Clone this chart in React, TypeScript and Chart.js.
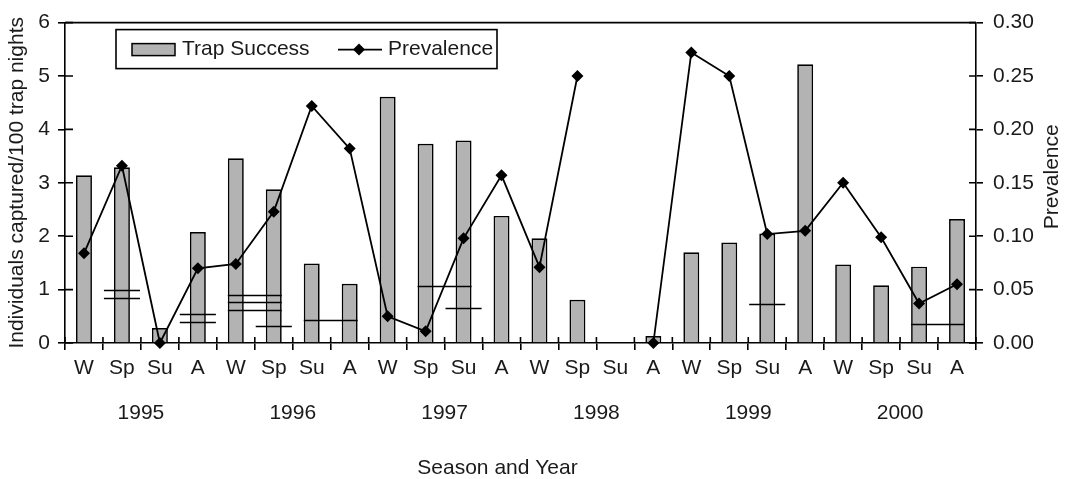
import React, { useEffect, useRef } from 'react';
import { Chart, registerables } from 'chart.js';

Chart.register(...registerables);

// ---------- data ----------
const seasons = ['W', 'Sp', 'Su', 'A', 'W', 'Sp', 'Su', 'A', 'W', 'Sp', 'Su', 'A', 'W', 'Sp', 'Su', 'A', 'W', 'Sp', 'Su', 'A', 'W', 'Sp', 'Su', 'A'];
const years = ['1995', '1996', '1997', '1998', '1999', '2000'];
const trapSuccess: (number | null)[] = [3.14, 3.29, 0.28, 2.08, 3.46, 2.88, 1.49, 1.11, 4.61, 3.73, 3.79, 2.38, 1.96, 0.81, null, 0.13, 1.7, 1.88, 2.05, 5.22, 1.47, 1.08, 1.43, 2.32];
const prevalence: (number | null)[] = [0.084, 0.166, 0.0, 0.07, 0.074, 0.123, 0.222, 0.182, 0.025, 0.011, 0.098, 0.157, 0.071, 0.25, null, 0.0, 0.272, 0.25, 0.102, 0.105, 0.15, 0.099, 0.037, 0.055];
// short horizontal marks: first category index, last category index, value (left axis units)
const markFrom = [1, 1, 3, 3, 4, 4, 4, 5, 6, 9, 10, 18, 22];
const markTo = [1, 1, 3, 3, 5, 5, 5, 5, 7, 10, 10, 18, 23];
const markValue = [0.99, 0.84, 0.55, 0.39, 0.89, 0.76, 0.61, 0.31, 0.44, 1.07, 0.66, 0.73, 0.36];
const leftTicks = [0, 1, 2, 3, 4, 5, 6];
const rightTicks = [0, 0.05, 0.1, 0.15, 0.2, 0.25, 0.3];

const FONT = '"Liberation Sans", Arial, sans-serif';
const TXT = '#1a1a1a';
const BAR_FILL = '#b3b3b3';

const decorPlugin = {
  id: 'decor',
  afterDatasetDraw(chart: any, args: any) {
    if (args.index !== 0) return;
    const ctx = chart.ctx;
    const xs = chart.scales.x;
    const ys = chart.scales.y;
    const meta = chart.getDatasetMeta(0);
    const cw = xs.width / seasons.length;
    ctx.save();
    ctx.strokeStyle = '#000';
    ctx.lineWidth = 1.4;
    for (let k = 0; k < markValue.length; k++) {
      let x0: number, x1: number;
      if (markFrom[k] === markTo[k]) {
        const c = xs.getPixelForValue(markFrom[k]);
        x0 = c - cw * 0.475;
        x1 = c + cw * 0.475;
      } else {
        const b0 = meta.data[markFrom[k]];
        const b1 = meta.data[markTo[k]];
        x0 = b0.x - b0.width / 2;
        x1 = b1.x + b1.width / 2;
      }
      const py = Math.round(ys.getPixelForValue(markValue[k])) + 0.5;
      ctx.beginPath();
      ctx.moveTo(x0, py);
      ctx.lineTo(x1, py);
      ctx.stroke();
    }
    ctx.restore();
  },
  afterDraw(chart: any) {
    const ctx = chart.ctx;
    const ca = chart.chartArea;
    const xs = chart.scales.x;
    const ys = chart.scales.y;
    const y1 = chart.scales.y1;
    ctx.save();
    ctx.strokeStyle = '#000';
    ctx.lineWidth = 1.6;
    // top frame line
    ctx.beginPath();
    ctx.moveTo(ca.left, ca.top);
    ctx.lineTo(ca.right, ca.top);
    ctx.stroke();
    // inner tick stubs
    ctx.beginPath();
    ys.ticks.forEach((_t: any, i: number) => {
      const p = ys.getPixelForTick(i);
      ctx.moveTo(ca.left, p);
      ctx.lineTo(ca.left + 8, p);
    });
    y1.ticks.forEach((_t: any, i: number) => {
      const p = y1.getPixelForTick(i);
      ctx.moveTo(ca.right - 7, p);
      ctx.lineTo(ca.right, p);
    });
    const cw = xs.width / seasons.length;
    for (let i = 0; i <= seasons.length; i++) {
      const p = xs.left + i * cw;
      ctx.moveTo(p, ca.bottom);
      ctx.lineTo(p, ca.bottom - 6);
    }
    ctx.stroke();

    // legend
    const lx = ca.left + 51;
    const ly = ca.top + 7;
    const lw = 381;
    const lh = 39;
    ctx.lineWidth = 1.6;
    ctx.strokeRect(lx, ly, lw, lh);
    const my = ly + lh / 2 + 0.5;
    ctx.fillStyle = BAR_FILL;
    ctx.fillRect(lx + 16, my - 6, 43, 12);
    ctx.lineWidth = 1.5;
    ctx.strokeRect(lx + 16, my - 6, 43, 12);
    ctx.fillStyle = TXT;
    ctx.font = `21px ${FONT}`;
    ctx.textBaseline = 'middle';
    ctx.textAlign = 'left';
    ctx.fillText('Trap Success', lx + 66, my);
    ctx.lineWidth = 1.8;
    ctx.beginPath();
    ctx.moveTo(lx + 222, my);
    ctx.lineTo(lx + 266, my);
    ctx.stroke();
    const dx = lx + 243;
    ctx.fillStyle = '#000';
    ctx.beginPath();
    ctx.moveTo(dx, my - 6);
    ctx.lineTo(dx + 6, my);
    ctx.lineTo(dx, my + 6);
    ctx.lineTo(dx - 6, my);
    ctx.closePath();
    ctx.fill();
    ctx.fillStyle = TXT;
    ctx.fillText('Prevalence', lx + 272, my);

    // right axis title (reads bottom to top)
    ctx.save();
    ctx.translate(y1.right - 14.5, (ca.top + ca.bottom) / 2 - 6);
    ctx.rotate(-Math.PI / 2);
    ctx.textAlign = 'center';
    ctx.textBaseline = 'middle';
    ctx.fillText('Prevalence', 0, 0);
    ctx.restore();

    // x axis title
    ctx.textAlign = 'center';
    ctx.textBaseline = 'middle';
    ctx.fillText('Season and Year', (ca.left + ca.right) / 2 - 23, chart.height - 11);
    ctx.restore();
  },
};

export default function App() {
  const ref = useRef<HTMLCanvasElement>(null);
  useEffect(() => {
    document.body.style.margin = '0';
    if (!ref.current) return;
    Chart.defaults.font.family = FONT;
    Chart.defaults.color = TXT;
    const chart = new Chart(ref.current, {
      data: {
        labels: seasons,
        datasets: [
          {
            type: 'bar',
            label: 'Trap Success',
            data: trapSuccess,
            backgroundColor: BAR_FILL,
            borderColor: '#000',
            borderWidth: 1.7,
            barPercentage: 0.42,
            categoryPercentage: 1,
            yAxisID: 'y',
            order: 2,
          },
          {
            type: 'line',
            label: 'Prevalence',
            data: prevalence,
            borderColor: '#000',
            borderWidth: 1.8,
            pointStyle: 'rectRot',
            pointRadius: 6,
            pointBackgroundColor: '#000',
            pointBorderColor: '#000',
            pointBorderWidth: 0,
            tension: 0,
            spanGaps: false,
            clip: false,
            yAxisID: 'y1',
            order: 1,
          },
        ],
      } as any,
      options: {
        responsive: false,
        animation: false,
        layout: { padding: { top: 18, left: 0, right: 0, bottom: 0 } },
        plugins: { legend: { display: false }, tooltip: { enabled: false } },
        scales: {
          x: {
            type: 'category',
            position: 'bottom',
            offset: true,
            grid: { display: true, drawOnChartArea: false, offset: true, tickLength: 7, color: '#000', lineWidth: 1.6 },
            border: { color: '#000', width: 1.6 },
            ticks: { font: { size: 21 }, color: TXT, padding: 6, maxRotation: 0, autoSkip: false },
            afterFit: (s: any) => { s.height = 40; },
          },
          xYear: {
            type: 'category',
            labels: years,
            position: 'bottom',
            offset: true,
            grid: { display: false },
            border: { display: false },
            ticks: { font: { size: 21 }, color: TXT, padding: 10, maxRotation: 0, autoSkip: false },
            afterFit: (s: any) => { s.height = 96; },
          },
          y: {
            type: 'linear',
            position: 'left',
            min: 0,
            max: 6,
            afterBuildTicks: (s: any) => { s.ticks = leftTicks.map((v) => ({ value: v })); },
            grid: { display: true, drawOnChartArea: false, tickLength: 7, color: '#000', lineWidth: 1.6 },
            border: { color: '#000', width: 1.6 },
            ticks: { font: { size: 21 }, color: TXT, padding: 8 },
            title: { display: true, text: 'Individuals captured/100 trap nights', font: { size: 21 }, color: TXT, padding: { top: 5, bottom: 0 } },
            afterFit: (s: any) => { s.width = 65; },
          },
          y1: {
            type: 'linear',
            position: 'right',
            min: 0,
            max: 0.3,
            afterBuildTicks: (s: any) => { s.ticks = rightTicks.map((v) => ({ value: v })); },
            grid: { display: true, drawOnChartArea: false, tickLength: 7, color: '#000', lineWidth: 1.6 },
            border: { color: '#000', width: 1.6 },
            ticks: { font: { size: 21 }, color: TXT, padding: 10, callback: (v: any) => Number(v).toFixed(2) },
            afterFit: (s: any) => { s.width = 91; },
          },
        },
      } as any,
      plugins: [decorPlugin],
    });
    return () => chart.destroy();
  }, []);
  return (
    <div style={{ width: 1067, height: 479, background: '#fff' }}>
      <canvas ref={ref} width={1067} height={479} style={{ display: 'block' }} />
    </div>
  );
}
